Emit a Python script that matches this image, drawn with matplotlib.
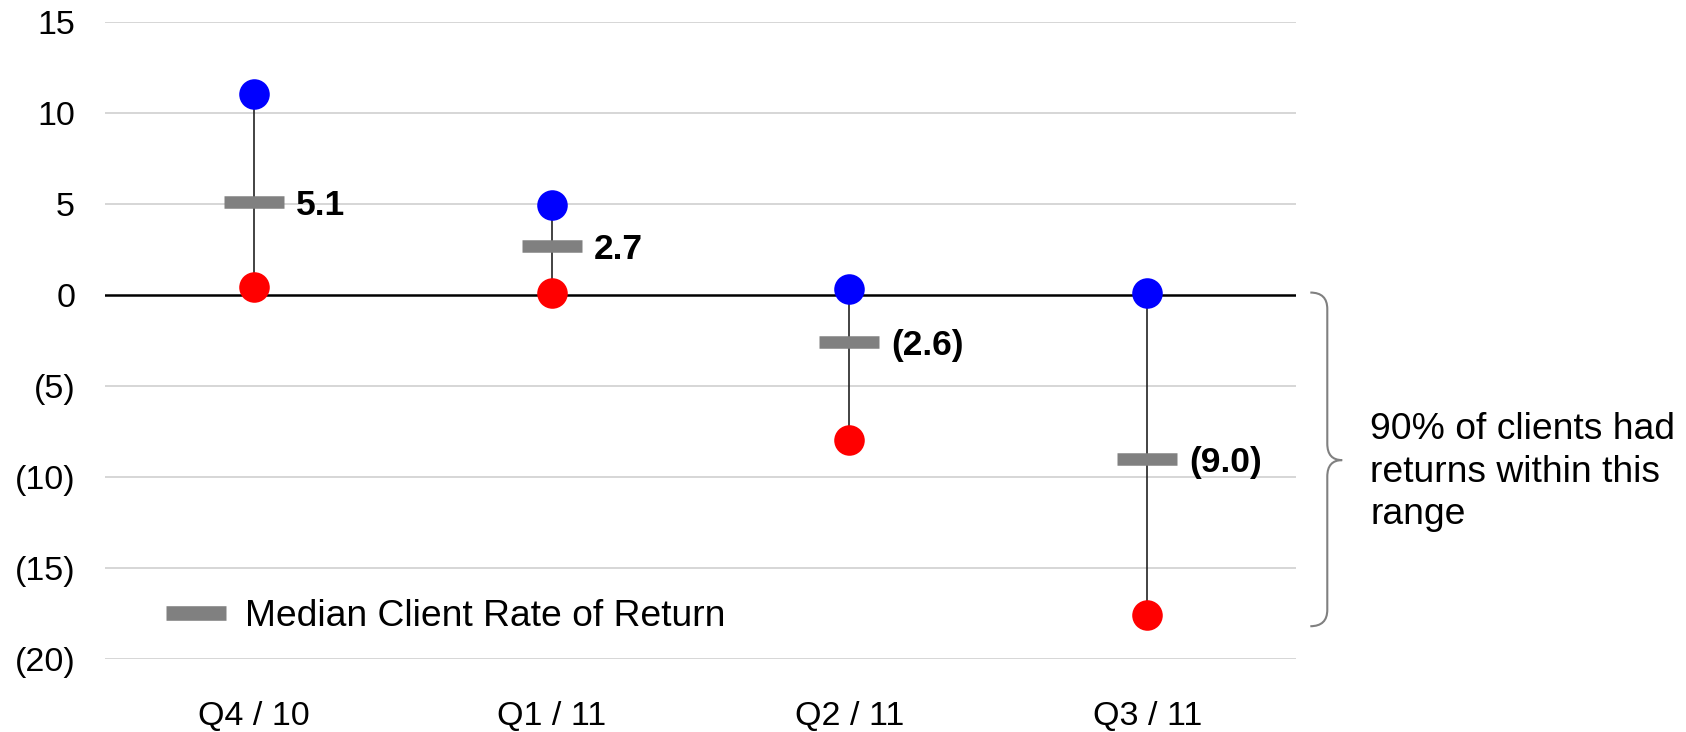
import numpy as np
import matplotlib
matplotlib.use("Agg")
import matplotlib.pyplot as plt
from matplotlib.path import Path
from matplotlib.patches import PathPatch

plt.rcParams["font.family"] = ["Liberation Sans", "DejaVu Sans"]

# Datos
trimestres = ["Q4 / 10", "Q1 / 11", "Q2 / 11", "Q3 / 11"]
rango_alto = [11.0, 4.9, 0.3, 0.1]
rango_bajo = [0.4, 0.1, -8.0, -17.6]
mediana = [5.1, 2.7, -2.6, -9.0]
y_ticks = [-20, -15, -10, -5, 0, 5, 10, 15]
y_labels = ["(20)", "(15)", "(10)", "(5)", "0", "5", "10", "15"]

x = np.arange(len(trimestres))

fig = plt.figure(figsize=(16.86, 7.32), dpi=100)
ax = fig.add_axes([0.0623, 0.0997, 0.7064, 0.8709])

# Rejilla
for t in y_ticks:
    if t == 0:
        continue
    ax.axhline(t, color="#cccccc", lw=1.1, zorder=0)
ax.axhline(0, color="black", lw=1.8, zorder=1)

# Rango 90%
ax.vlines(x, rango_bajo, rango_alto, color="#222222", lw=1.2, zorder=2)
ax.plot(x, rango_alto, "o", color="#0000ff", markersize=22, markeredgewidth=0, zorder=4)
ax.plot(x, rango_bajo, "o", color="#ff0000", markersize=22, markeredgewidth=0, zorder=4)

# Mediana
ax.plot(x, mediana, linestyle="none", marker="_", markersize=43, markeredgewidth=9,
        color="#808080", zorder=3, label="Median Client Rate of Return")

for xi, v in zip(x, mediana):
    txt = f"{v:.1f}" if v >= 0 else f"({abs(v):.1f})"
    ax.text(xi + 0.142, v - 0.2, txt, ha="left", va="center", fontsize=25.5,
            fontweight="bold", color="black")

ax.set_xlim(-0.5, 3.5)
ax.set_ylim(-20, 15)
ax.set_xticks(x)
ax.set_xticklabels(trimestres, fontsize=24.5)
ax.set_yticks(y_ticks)
ax.set_yticklabels(y_labels, fontsize=24.5)
ax.tick_params(axis="both", length=0)
ax.tick_params(axis="y", pad=21.5)
ax.tick_params(axis="x", pad=30.5)
for s in ax.spines.values():
    s.set_visible(False)

leg = ax.legend(loc="center left", bbox_to_anchor=(0.047, 0.066), frameon=False,
                fontsize=26.8, numpoints=1, handlelength=1.9, handletextpad=0.35,
                borderpad=0, borderaxespad=0)
for h in leg.legend_handles:
    h.set_markeredgewidth(10.5)

# Llave
xl, xm, xt = 3.548, 3.605, 3.655
yt, yb, ym = 0.12, -18.2, -9.08
ry = 0.9
verts = [
    (xl, yt), (xm, yt), (xm, yt - ry),
    (xm, ym + ry),
    (xm, ym), (xt, ym),
    (xm, ym), (xm, ym - ry),
    (xm, yb + ry),
    (xm, yb), (xl, yb),
]
codes = [
    Path.MOVETO, Path.CURVE3, Path.CURVE3,
    Path.LINETO,
    Path.CURVE3, Path.CURVE3,
    Path.CURVE3, Path.CURVE3,
    Path.LINETO,
    Path.CURVE3, Path.CURVE3,
]
ax.add_patch(PathPatch(Path(verts, codes), facecolor="none", edgecolor="#808080",
                       lw=1.5, clip_on=False))

ax.text(3.749, -9.75, "90% of clients had\nreturns within this\nrange", ha="left",
        va="center", fontsize=26.8, linespacing=1.28, clip_on=False)

fig.savefig("out.png", dpi=100)
